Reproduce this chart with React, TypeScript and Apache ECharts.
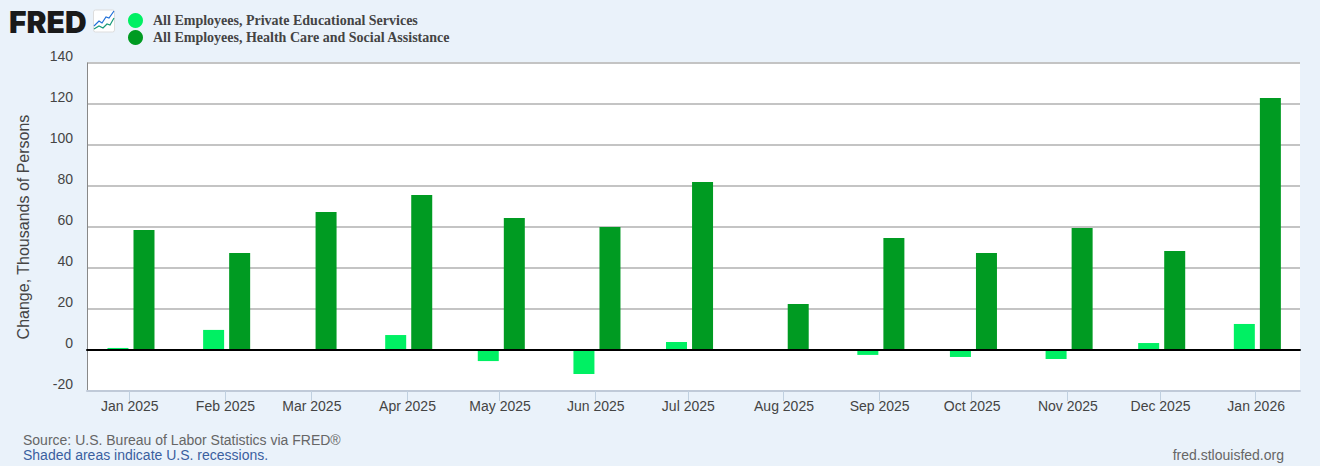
import React, { useEffect, useRef } from "react";
import * as echarts from "echarts";

const dates = ["2025-01-01","2025-02-01","2025-03-01","2025-04-01","2025-05-01","2025-06-01","2025-07-01","2025-08-01","2025-09-01","2025-10-01","2025-11-01","2025-12-01","2026-01-01"];
const tickLabels = ["Jan 2025","Feb 2025","Mar 2025","Apr 2025","May 2025","Jun 2025","Jul 2025","Aug 2025","Sep 2025","Oct 2025","Nov 2025","Dec 2025","Jan 2026"];
const education = [1.0, 9.8, 0, 7.3, -5.4, -11.7, 3.9, 0, -2.4, -3.4, -4.4, 3.4, 12.7];
const healthCare = [58.5, 47.3, 67.3, 75.6, 64.4, 60.0, 82.0, 22.4, 54.6, 47.3, 59.5, 48.3, 122.9];
const educationName = "All Employees, Private Educational Services";
const healthName = "All Employees, Health Care and Social Assistance";

const DAY = 86400000;
const toTime = (d: string) => Date.parse(d + "T00:00:00Z");
const times = dates.map(toTime);
const axisMin = times[0] - 13.7 * DAY;
const axisMax = axisMin + 393.07 * DAY;
const barShift = 0.55 * DAY;
const sans = "Liberation Sans, Arial, sans-serif";

export default function App() {
  const ref = useRef<HTMLDivElement>(null);
  useEffect(() => {
    document.body.style.margin = "0";
    const chart = echarts.init(ref.current!, null, { renderer: "svg" });
    chart.setOption({
      animation: false,
      backgroundColor: "#eaf2fa",
      grid: { left: 87, right: 20, top: 63, bottom: 75, show: true, backgroundColor: "#ffffff", borderWidth: 0, containLabel: false },
      legend: {
        orient: "vertical", left: 123, top: 8, itemWidth: 15, itemHeight: 15, itemGap: 2, icon: "circle",
        data: [educationName, healthName], selectedMode: false,
        textStyle: { fontFamily: "Liberation Serif, Times New Roman, serif", fontWeight: "bold", fontSize: 14, color: "#444444", padding: [4, 0, 0, 5] },
      },
      xAxis: [
        {
          type: "value", min: axisMin, max: axisMax, position: "bottom",
          axisLine: { show: true, onZero: false, lineStyle: { color: "#c0cad8", width: 2 } },
          axisTick: { show: true, length: 10, lineStyle: { color: "#c0d0e0", width: 1 }, customValues: times },
          axisLabel: {
            show: true, customValues: times, margin: 8, fontFamily: sans, fontSize: 14, color: "#444444", hideOverlap: false,
            padding: [0, 0, 0, 1],
            formatter: (v: number) => tickLabels[times.indexOf(v)] ?? "",
          },
          splitLine: { show: false },
        },
        {
          type: "value", min: axisMin - barShift, max: axisMax - barShift, position: "bottom", z: 10,
          axisLine: { show: true, onZero: true, lineStyle: { color: "#000000", width: 2 } },
          axisTick: { show: false }, axisLabel: { show: false }, splitLine: { show: false },
        },
      ],
      yAxis: {
        type: "value", min: -20, max: 140, interval: 20,
        name: "Change, Thousands of Persons", nameLocation: "middle", nameGap: 56,
        nameTextStyle: { fontFamily: sans, fontSize: 16, color: "#444444" },
        axisLine: { show: true, lineStyle: { color: "#888888", width: 1 } },
        axisTick: { show: false },
        axisLabel: { margin: 14, fontFamily: sans, fontSize: 14, color: "#444444", verticalAlign: "bottom" },
        splitLine: { show: true, lineStyle: { color: "#c4c4c4", width: 2 } },
      },
      series: [
        { name: educationName, type: "bar", xAxisIndex: 1, barWidth: 21, barGap: "24%", itemStyle: { color: "#00f063" },
          data: times.map((t, i) => [t, education[i]]) },
        { name: healthName, type: "bar", xAxisIndex: 1, barWidth: 21, barGap: "24%", itemStyle: { color: "#009b22" },
          data: times.map((t, i) => [t, healthCare[i]]) },
      ],
      graphic: [
        { type: "text", left: 9, top: 7, style: { text: "FRED", fontFamily: "Inter, sans-serif", fontWeight: 900, fontSize: 30, fill: "#1a1a1a" } },
        { type: "rect", shape: { x: 93.5, y: 10, width: 21, height: 22, r: 2 }, style: { fill: "#ffffff", stroke: "#dddddd", lineWidth: 1 } },
        { type: "polyline", shape: { points: [[94, 26], [99, 21], [102, 23], [106, 17], [109, 18], [114, 11]] }, style: { stroke: "#1f6fd8", fill: "none", lineWidth: 1.2 } },
        { type: "polyline", shape: { points: [[94, 29], [99, 26], [103, 28], [107, 24], [110, 25], [114, 18]] }, style: { stroke: "#1a9a7a", fill: "none", lineWidth: 1.2 } },
        { type: "text", x: 23, y: 433, style: { text: "Source: U.S. Bureau of Labor Statistics via FRED®", fontFamily: sans, fontSize: 14, fill: "#666666" } },
        { type: "text", x: 23, y: 448, style: { text: "Shaded areas indicate U.S. recessions.", fontFamily: sans, fontSize: 14, fill: "#3a5f9f" } },
        { type: "text", x: 1284, y: 448, style: { text: "fred.stlouisfed.org", fontFamily: sans, fontSize: 14, fill: "#666666", align: "right" } },
      ],
    });
    return () => chart.dispose();
  }, []);
  return <div ref={ref} style={{ position: "absolute", left: 0, top: 0, width: 1320, height: 466 }} />;
}
